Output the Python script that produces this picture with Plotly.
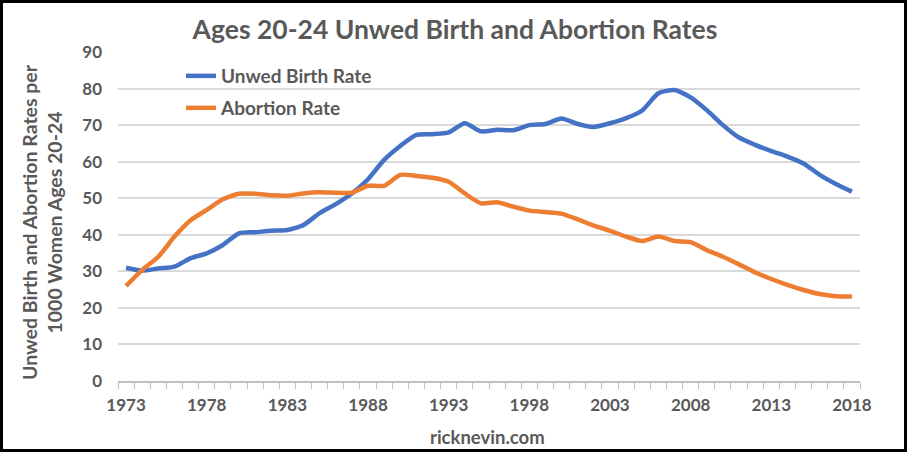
import plotly.graph_objects as go

years = list(range(1973, 2019))
unwed_birth_rate = [31.0, 30.2, 30.8, 31.3, 33.6, 34.9, 37.2, 40.4, 40.7, 41.1,
                    41.3, 42.7, 45.9, 48.4, 51.3, 55.2, 60.5, 64.3, 67.3, 67.5,
                    68.0, 70.5, 68.3, 68.7, 68.6, 70.0, 70.3, 71.8, 70.3, 69.5,
                    70.5, 71.9, 74.0, 78.7, 79.6, 77.6, 74.1, 70.0, 66.6, 64.6,
                    62.9, 61.4, 59.5, 56.4, 53.9, 51.8]
abortion_rate = [26.0, 30.4, 34.0, 39.5, 44.0, 46.8, 49.7, 51.2, 51.2, 50.8,
                 50.7, 51.3, 51.6, 51.5, 51.5, 53.4, 53.4, 56.4, 56.1, 55.6,
                 54.5, 51.3, 48.6, 48.9, 47.7, 46.6, 46.2, 45.8, 44.2, 42.5,
                 41.1, 39.5, 38.3, 39.5, 38.3, 38.0, 35.8, 34.0, 31.9, 29.7,
                 27.9, 26.3, 24.9, 23.8, 23.2, 23.1]
x_tick_vals = list(range(1973, 2019, 5))
title_text = "Ages 20-24 Unwed Birth and Abortion Rates"
y_title = "Unwed Birth and Abortion Rates per<br>1000 Women Ages 20-24"
x_title = "ricknevin.com"

W, H = 907, 452
L, R, T, B = 118, 47, 52, 71
pw, ph = W - L - R, H - T - B
grey = "#595959"
font_fam = "Lato, 'Open Sans', sans-serif"

fig = go.Figure()
fig.add_trace(go.Scatter(x=years, y=unwed_birth_rate, mode="lines",
                         name="<b>Unwed Birth Rate</b>", legend="legend",
                         line=dict(color="#4472C4", width=4.5, shape="spline", smoothing=0.6)))
fig.add_trace(go.Scatter(x=years, y=abortion_rate, mode="lines",
                         name="<b>Abortion Rate</b>", legend="legend2",
                         line=dict(color="#ED7D31", width=4.5, shape="spline", smoothing=0.6)))

leg_common = dict(xanchor="left", yanchor="middle", bgcolor="rgba(0,0,0,0)",
                  font=dict(size=19, color=grey, family=font_fam))
fig.update_layout(
    width=W, height=H,
    margin=dict(l=L, r=R, t=T, b=B, pad=0, autoexpand=False),
    paper_bgcolor="white", plot_bgcolor="white",
    font=dict(family=font_fam, color=grey),
    title=dict(text="<b>" + title_text + "</b>", x=(455 - L) / pw, xref="paper",
               xanchor="center", y=1 - 30 / H, yanchor="middle",
               font=dict(size=26.5, color=grey, family=font_fam)),
    legend=dict(x=(181 - L) / pw, y=(381 - 76) / ph, **leg_common),
    legend2=dict(x=(181 - L) / pw, y=(381 - 108) / ph, **leg_common),
    showlegend=True,
)
fig.update_xaxes(
    range=[1972.5, 2018.5], tickmode="array", tickvals=x_tick_vals,
    ticktext=["<b>%d</b>" % v for v in x_tick_vals],
    tickfont=dict(size=17, color=grey), ticks="", showgrid=False,
    showline=True, linecolor="#BFBFBF", linewidth=1.5,
    ticklabelstandoff=8, automargin=False,
    minor=dict(tick0=1972.5, dtick=1, ticks="outside", ticklen=6, tickcolor="#BFBFBF",
               tickwidth=1, showgrid=False),
    zeroline=False,
)
fig.update_yaxes(
    range=[0, 90], dtick=10, tickfont=dict(size=17, color=grey),
    tickprefix="<b>", ticksuffix="</b>", automargin=False,
    showgrid=True, gridcolor="#D9D9D9", gridwidth=1.5, zeroline=False,
    showline=False, ticks="", ticklabelstandoff=15,
)
fig.add_annotation(text="<b>" + x_title + "</b>", showarrow=False,
                   xref="paper", yref="paper", x=(487 - L) / pw, y=(381 - 437) / ph,
                   xanchor="center", yanchor="middle",
                   font=dict(size=18.5, color=grey, family=font_fam))
fig.add_annotation(text="<b>" + y_title + "</b>", textangle=-90, showarrow=False,
                   xref="paper", yref="paper", x=(42 - L) / pw, y=(381 - 222) / ph,
                   xanchor="center", yanchor="middle",
                   font=dict(size=19.5, color=grey, family=font_fam))
fig.add_shape(type="rect", xref="paper", yref="paper",
              x0=(1.5 - L) / pw, x1=(W - 1.5 - L) / pw,
              y0=(H - B - (H - 1.5)) / ph, y1=(H - B - 1.5) / ph,
              line=dict(color="black", width=3), fillcolor="rgba(0,0,0,0)", layer="above")

fig.write_html("out.html")
